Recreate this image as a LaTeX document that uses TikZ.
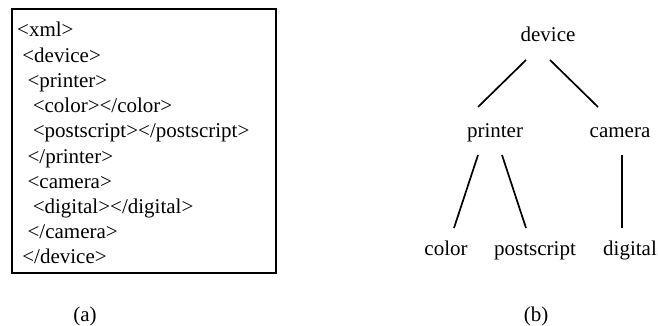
\documentclass[tikz,border=0pt]{standalone}
\usepackage{fontspec}
\setmainfont{Liberation Serif}
\begin{document}
\begin{tikzpicture}[x=1pt,y=-1pt,
  txt/.style={inner sep=0pt,anchor=base,font=\fontsize{21}{25}\selectfont},
  code/.style={txt,anchor=base west},
  edge/.style={line width=1.7pt},
  frame/.style={line width=1.8pt}]
\useasboundingbox (0,0) rectangle (658,326);

% (a) XML listing in a frame
\draw[frame] (12,9) rectangle (276,273);
\newcommand{\ind}[1]{\hspace*{#1\dimexpr 5.2pt\relax}}
\node[code] (l1)  at (17,37)    {<xml>};
\node[code] (l2)  at (17,62.2)  {\ind{1}<device>};
\node[code] (l3)  at (17,87.4)  {\ind{2}<printer>};
\node[code] (l4)  at (17,112.6) {\ind{3}<color></color>};
\node[code] (l5)  at (17,137.8) {\ind{3}<postscript></postscript>};
\node[code] (l6)  at (17,163)   {\ind{2}</printer>};
\node[code] (l7)  at (17,188.2) {\ind{2}<camera>};
\node[code] (l8)  at (17,213.4) {\ind{3}<digital></digital>};
\node[code] (l9)  at (17,238.6) {\ind{2}</camera>};
\node[code] (l10) at (17,263.8) {\ind{1}</device>};

% (b) tree
\node[txt] (device)     at (548,42)  {device};
\node[txt] (printer)    at (495,137) {printer};
\node[txt] (camera)     at (620,137) {camera};
\node[txt] (color)      at (446,255) {color};
\node[txt] (postscript) at (535,255) {postscript};
\node[txt] (digital)    at (630,255) {digital};

\draw[edge] ([xshift=-22pt,yshift=-18pt]device.base) -- ([xshift=-17pt,yshift=30pt]printer.base);
\draw[edge] ([xshift=2pt,yshift=-18pt]device.base) -- ([xshift=-22pt,yshift=30pt]camera.base);
\draw[edge] ([xshift=-17pt,yshift=-18pt]printer.base) -- ([xshift=8pt,yshift=27pt]color.base);
\draw[edge] ([xshift=7pt,yshift=-18pt]printer.base) -- ([xshift=-9pt,yshift=27pt]postscript.base);
\draw[edge] ([xshift=2pt,yshift=-18pt]camera.base) -- ([xshift=-8pt,yshift=27pt]digital.base);

% captions
\node[txt] (capa) at (85,321)  {(a)};
\node[txt] (capb) at (536,321) {(b)};
\end{tikzpicture}
\end{document}
